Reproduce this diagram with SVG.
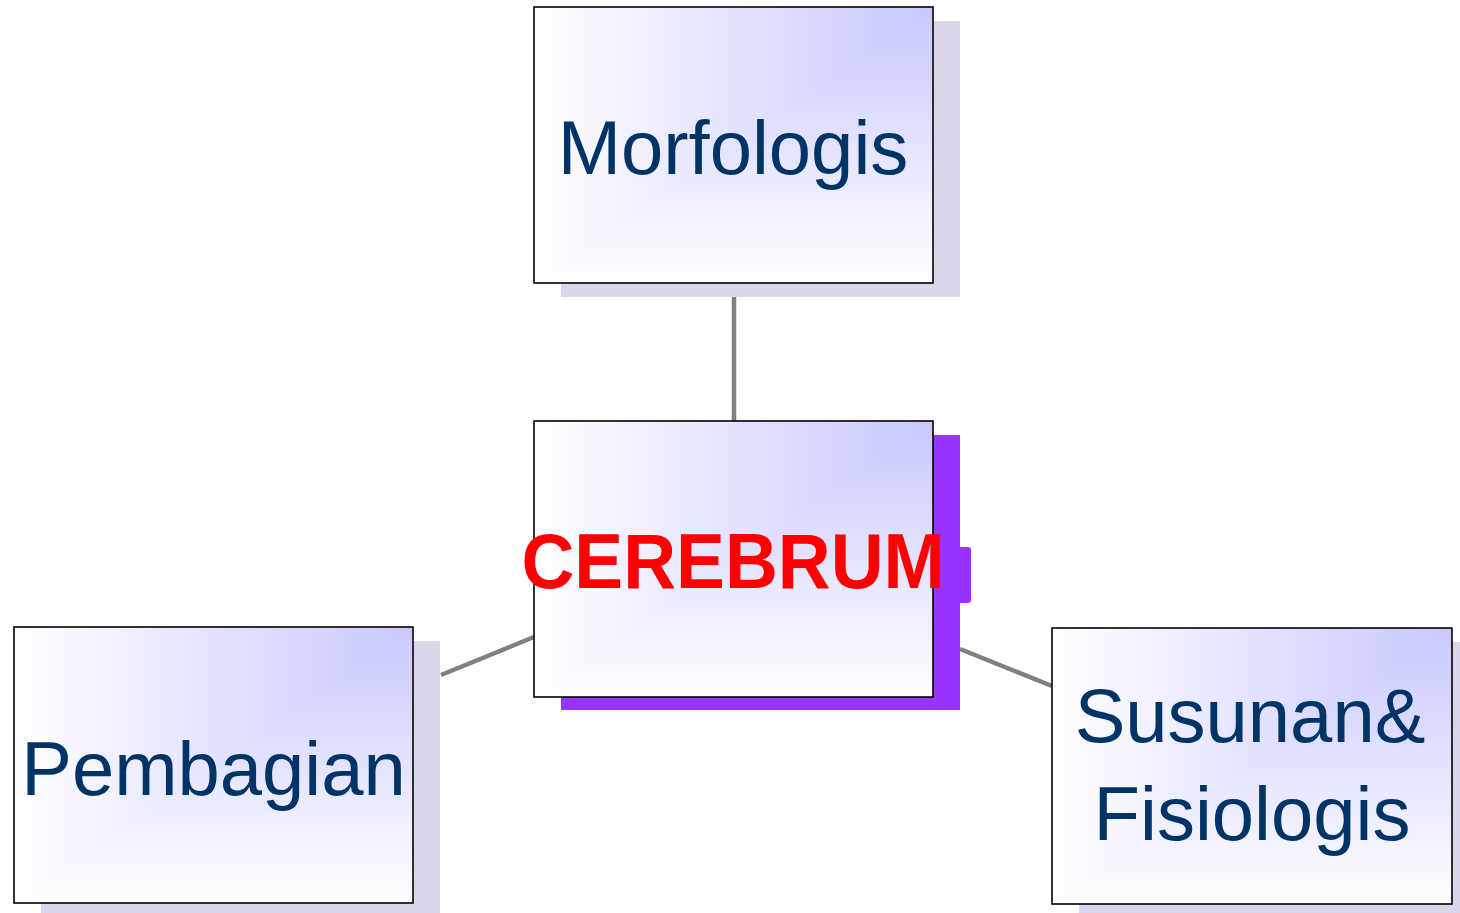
<svg xmlns="http://www.w3.org/2000/svg" width="1460" height="913" viewBox="0 0 1460 913">
  <defs>
    <!-- rectangular fill: blue at the top-right corner fading to white -->
    <linearGradient id="fillH" x1="0" y1="0" x2="1" y2="0">
      <stop offset="0" stop-color="#ffffff"/>
      <stop offset="1" stop-color="#c8c8ff"/>
    </linearGradient>
    <linearGradient id="fillV" x1="0" y1="0" x2="0" y2="1">
      <stop offset="0" stop-color="#c8c8ff"/>
      <stop offset="1" stop-color="#ffffff"/>
    </linearGradient>
  </defs>
  <style>
    .shadow { fill: #d9d8ea; }
    .shadow-hi { fill: #9933ff; }
    .fill-h { fill: url(#fillH); }
    .fill-v { fill: url(#fillV); mix-blend-mode: lighten; }
    .face { isolation: isolate; }
    .frame { fill: none; stroke: #000; stroke-width: 1.6; }
    .label { font-family: "Liberation Sans", Arial, sans-serif; font-size: 76px; fill: #003466; text-anchor: middle; }
    .title { font-family: "Liberation Sans", Arial, sans-serif; font-size: 77px; font-weight: bold; fill: #ff0000; text-anchor: middle; }
    .link { stroke: #808080; stroke-width: 4.5; fill: none; }
  </style>
  <rect width="1460" height="913" fill="#ffffff"/>

  <g id="connectors">
    <line class="link" x1="734" y1="297" x2="734" y2="421"/>
    <line class="link" x1="441" y1="675" x2="534" y2="637"/>
    <line class="link" x1="960" y1="649" x2="1052" y2="686"/>
  </g>

  <g id="node-morfologis">
    <rect class="shadow" x="561" y="21" width="399" height="276"/>
    <g class="face">
      <rect class="fill-h" x="534" y="7" width="399" height="276"/>
      <rect class="fill-v" x="534" y="7" width="399" height="276"/>
    </g>
    <rect class="frame" x="534" y="7" width="399" height="276"/>
    <text class="label" x="733" y="174">Morfologis</text>
  </g>

  <g id="node-cerebrum">
    <rect class="shadow-hi" x="561" y="435" width="399" height="275"/>
    <rect class="shadow-hi" x="930" y="547" width="41" height="56" rx="3"/>
    <g class="face">
      <rect class="fill-h" x="534" y="421" width="399" height="276"/>
      <rect class="fill-v" x="534" y="421" width="399" height="276"/>
    </g>
    <rect class="frame" x="534" y="421" width="399" height="276"/>
    <text class="title" x="733" y="588" textLength="423" lengthAdjust="spacingAndGlyphs">CEREBRUM</text>
  </g>

  <g id="node-pembagian">
    <rect class="shadow" x="41" y="641" width="399" height="276"/>
    <g class="face">
      <rect class="fill-h" x="14" y="627" width="399" height="276"/>
      <rect class="fill-v" x="14" y="627" width="399" height="276"/>
    </g>
    <rect class="frame" x="14" y="627" width="399" height="276"/>
    <text class="label" x="213.5" y="795">Pembagian</text>
  </g>

  <g id="node-susunan">
    <rect class="shadow" x="1079" y="642" width="400" height="276"/>
    <g class="face">
      <rect class="fill-h" x="1052" y="628" width="400" height="276"/>
      <rect class="fill-v" x="1052" y="628" width="400" height="276"/>
    </g>
    <rect class="frame" x="1052" y="628" width="400" height="276"/>
    <text class="label" x="1250" y="742">Susunan&amp;</text>
    <text class="label" x="1252" y="840">Fisiologis</text>
  </g>
</svg>
